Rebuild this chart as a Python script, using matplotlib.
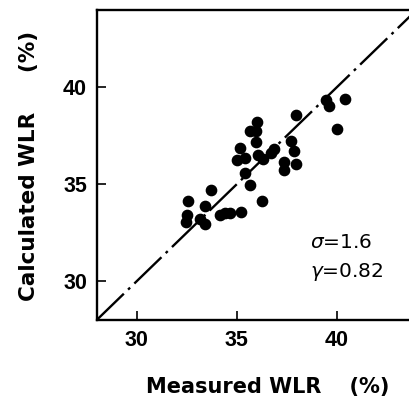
import matplotlib
matplotlib.use("Agg")
import matplotlib.pyplot as plt

measured = [39.45, 39.62, 40.40, 40.00, 37.96, 36.00, 35.64, 35.94, 35.97, 35.17,
            37.71, 37.88, 36.88, 36.72, 36.05, 36.30, 35.02, 35.39, 37.38, 37.38,
            37.96, 35.39, 35.64, 36.27, 35.19, 33.73, 32.57, 33.40, 32.49, 32.44,
            33.15, 33.40, 34.14, 34.39, 34.64]
calculated = [39.33, 39.04, 39.38, 37.84, 38.56, 38.21, 37.73, 37.73, 37.18, 36.84,
              37.22, 36.70, 36.80, 36.63, 36.49, 36.32, 36.24, 36.36, 36.12, 35.72,
              36.02, 35.55, 34.98, 34.14, 33.57, 34.69, 34.14, 33.87, 33.40, 33.03,
              33.18, 32.94, 33.40, 33.52, 33.52]
ticks = [30, 35, 40]
xlim = (28, 43.65)
ylim = (28, 44)
diag = [28, 44]

plt.rcParams['font.family'] = ['Liberation Sans', 'DejaVu Sans']

W, H = 410, 398
fig = plt.figure(figsize=(W / 100, H / 100), dpi=100)
ax = fig.add_axes([96.7 / W, (H - 320) / H, (W - 96.7) / W, (320 - 9.5) / H])

ax.plot(diag, diag, color='black', lw=1.7, linestyle=(0, (16, 2.5, 1.2, 2.5)),
        solid_capstyle='butt', dash_capstyle='butt', zorder=2)
ax.plot(measured, calculated, 'o', color='black', ms=7.4, mec='black', zorder=3)

ax.set_xlim(*xlim)
ax.set_ylim(*ylim)
ax.set_xticks(ticks)
ax.set_yticks(ticks)
ax.tick_params(direction='in', length=6.5, width=1.2, labelsize=15.5, pad=7)
for lab in ax.get_xticklabels() + ax.get_yticklabels():
    lab.set_fontweight('bold')
for s in ['left', 'bottom', 'top']:
    ax.spines[s].set_linewidth(1.7)
ax.spines['right'].set_visible(False)

fig.text(268 / W, (H - 393) / H, 'Measured WLR\u2003 (%)', fontsize=15,
         fontweight='bold', family='DejaVu Sans', ha='center', va='baseline')
fig.text(29 / W, (H - 166) / H, 'Calculated WLR\u2003\u2002 (%)', fontsize=15.5,
         fontweight='bold', family='DejaVu Sans', ha='center', va='center',
         rotation=90)

fig.text(310 / W, (H - 242) / H, r'$\sigma$=1.6', fontsize=14.5,
         family='DejaVu Sans', ha='left', va='center')
fig.text(310 / W, (H - 272) / H, r'$\gamma$=0.82', fontsize=14.5,
         family='DejaVu Sans', ha='left', va='center')

fig.savefig('out.png', dpi=100)
